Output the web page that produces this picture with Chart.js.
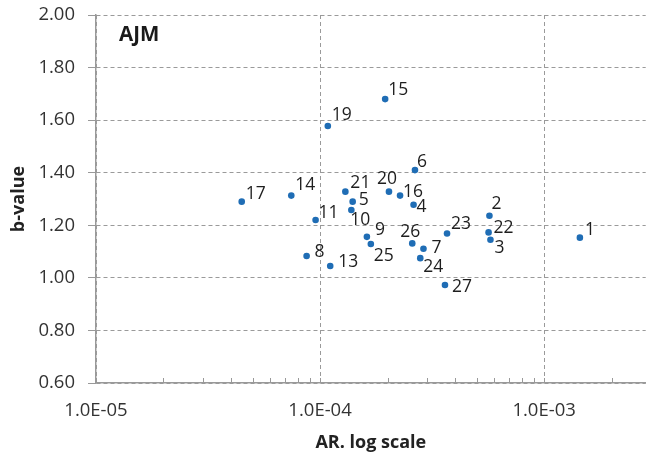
<!DOCTYPE html>
<html>
<head>
<meta charset="utf-8">
<script src="https://cdn.jsdelivr.net/npm/chart.js@4.4.1/dist/chart.umd.min.js"></script>
<style>
  html, body { margin: 0; padding: 0; background: #fff; }
  #wrap { width: 649px; height: 459px; }
</style>
</head>
<body>
<div id="wrap"><canvas id="chart" width="649" height="459"></canvas></div>
<script>
// ── Data ───────────────────────────────────────────────────────────────
const pointLabels = ["1", "2", "3", "4", "5", "6", "7", "8", "9", "10", "11", "13", "14",
  "15", "16", "17", "19", "20", "21", "22", "23", "24", "25", "26", "27"];
const arValues = [1.444e-3, 5.70e-4, 5.76e-4, 2.614e-4, 1.398e-4, 2.652e-4, 2.894e-4, 8.71e-5,
  1.618e-4, 1.379e-4, 9.55e-5, 1.11e-4, 7.44e-5, 1.952e-4, 2.275e-4, 4.47e-5, 1.083e-4,
  2.03e-4, 1.297e-4, 5.65e-4, 3.687e-4, 2.80e-4, 1.685e-4, 2.579e-4, 3.61e-4];
const bValues = [1.153, 1.236, 1.145, 1.278, 1.290, 1.410, 1.111, 1.083, 1.156, 1.258, 1.220,
  1.045, 1.313, 1.680, 1.313, 1.290, 1.578, 1.328, 1.328, 1.173, 1.169, 1.075, 1.129, 1.131, 0.973];
const xTicks = [1e-5, 1e-4, 1e-3];
const yTicks = [0.6, 0.8, 1.0, 1.2, 1.4, 1.6, 1.8, 2.0];

// ── Style ──────────────────────────────────────────────────────────────
const FONT = "'Open Sans', 'Liberation Sans', sans-serif";
const DOT = "#1f6db5";
const GRID = "#9a9a9a";
// label placement relative to the point: [dx to label left edge, dy to label middle]
const LABEL_OFFSET = {
  "1": [5, -8], "2": [2, -12], "3": [4, 8], "4": [3, 2], "5": [6, -2], "6": [2, -8],
  "7": [8, -1], "8": [8, -4], "9": [8, -7], "10": [-1, 10], "11": [3, -7], "13": [8, -4],
  "14": [4, -11], "15": [3, -9], "16": [3, -4], "17": [4, -8], "19": [4, -11], "20": [-12, -13],
  "21": [5, -9], "22": [5, -4], "23": [4, -9], "24": [3, 9], "25": [3, 12], "26": [-12, -11],
  "27": [7, 2]
};

const points = arValues.map((x, i) => ({ x, y: bValues[i], label: pointLabels[i] }));

// point labels + minor ticks + panel tag
const decorPlugin = {
  id: "decor",
  afterDatasetsDraw(chart) {
    const ctx = chart.ctx;
    const meta = chart.getDatasetMeta(0);
    ctx.save();
    ctx.font = "17.5px " + FONT;
    ctx.fillStyle = "#1e1e1e";
    ctx.textAlign = "left";
    ctx.textBaseline = "middle";
    meta.data.forEach((el, i) => {
      const lbl = pointLabels[i];
      const off = LABEL_OFFSET[lbl] || [4, -6];
      ctx.fillText(lbl, el.x + off[0], el.y + off[1]);
    });

    // minor ticks on the log axis (inside, pointing up)
    const xs = chart.scales.x;
    const bottom = chart.chartArea.bottom;
    ctx.strokeStyle = "#999";
    ctx.lineWidth = 1;
    ctx.beginPath();
    for (let e = -5; e <= -3; e++) {
      for (let k = 1; k <= 9; k++) {
        const v = k * Math.pow(10, e);
        if (v < xs.min || v > xs.max) continue;
        const px = Math.round(xs.getPixelForValue(v)) + 0.5;
        ctx.moveTo(px, bottom);
        ctx.lineTo(px, bottom - 5);
      }
    }
    ctx.stroke();

    ctx.font = "bold 20.5px " + FONT;
    ctx.fillStyle = "#1a1a1a";
    ctx.textBaseline = "alphabetic";
    ctx.fillText("AJM", chart.chartArea.left + 23, chart.chartArea.top + 26);
    ctx.restore();
  }
};

new Chart(document.getElementById("chart"), {
  type: "scatter",
  data: {
    datasets: [{
      data: points,
      backgroundColor: DOT,
      borderColor: DOT,
      pointRadius: 3.3,
      pointHoverRadius: 3.3,
      borderWidth: 0
    }]
  },
  options: {
    responsive: false,
    animation: false,
    layout: { padding: { top: 15, right: 0, left: 0, bottom: 0 } },
    plugins: { legend: { display: false }, tooltip: { enabled: false } },
    scales: {
      x: {
        type: "logarithmic",
        min: 1e-5,
        max: 2.84e-3,
        afterBuildTicks: (s) => { s.ticks = xTicks.map((v) => ({ value: v, major: true })); },
        afterFit: (s) => { s.height = 76; s.paddingRight = 0; },
        grid: { color: GRID, drawTicks: false },
        border: { color: "#999", width: 1.5, dash: [4, 3] },
        ticks: {
          padding: 17,
          color: "#333",
          font: { family: FONT, size: 18.5 },
          maxRotation: 0,
          callback: (v) => Number(v).toExponential(1).replace(/e([+-])(\d)$/, "E$10$2").replace("e", "E")
        },
        title: {
          display: true,
          text: "AR. log scale",
          color: "#222",
          font: { family: FONT, size: 18, weight: "bold" },
          padding: { top: 0, bottom: 5 }
        }
      },
      y: {
        min: 0.6,
        max: 2.0,
        afterBuildTicks: (s) => { s.ticks = yTicks.map((v) => ({ value: v })); },
        afterFit: (s) => { s.width = 96; s.paddingTop = 0; s.paddingBottom = 0; },
        grid: { color: GRID, drawTicks: true, tickLength: 8, tickColor: "#999", tickBorderDash: [] },
        border: { color: "#999", width: 1.5, dash: [4, 3] },
        ticks: {
          padding: 13,
          color: "#333",
          font: { family: FONT, size: 18.5 },
          callback: (v) => Number(v).toFixed(2)
        },
        title: {
          display: true,
          text: "b-value",
          color: "#222",
          font: { family: FONT, size: 18, weight: "bold" },
          padding: { top: 8, bottom: 0 }
        }
      }
    }
  },
  plugins: [decorPlugin]
});
</script>
</body>
</html>
